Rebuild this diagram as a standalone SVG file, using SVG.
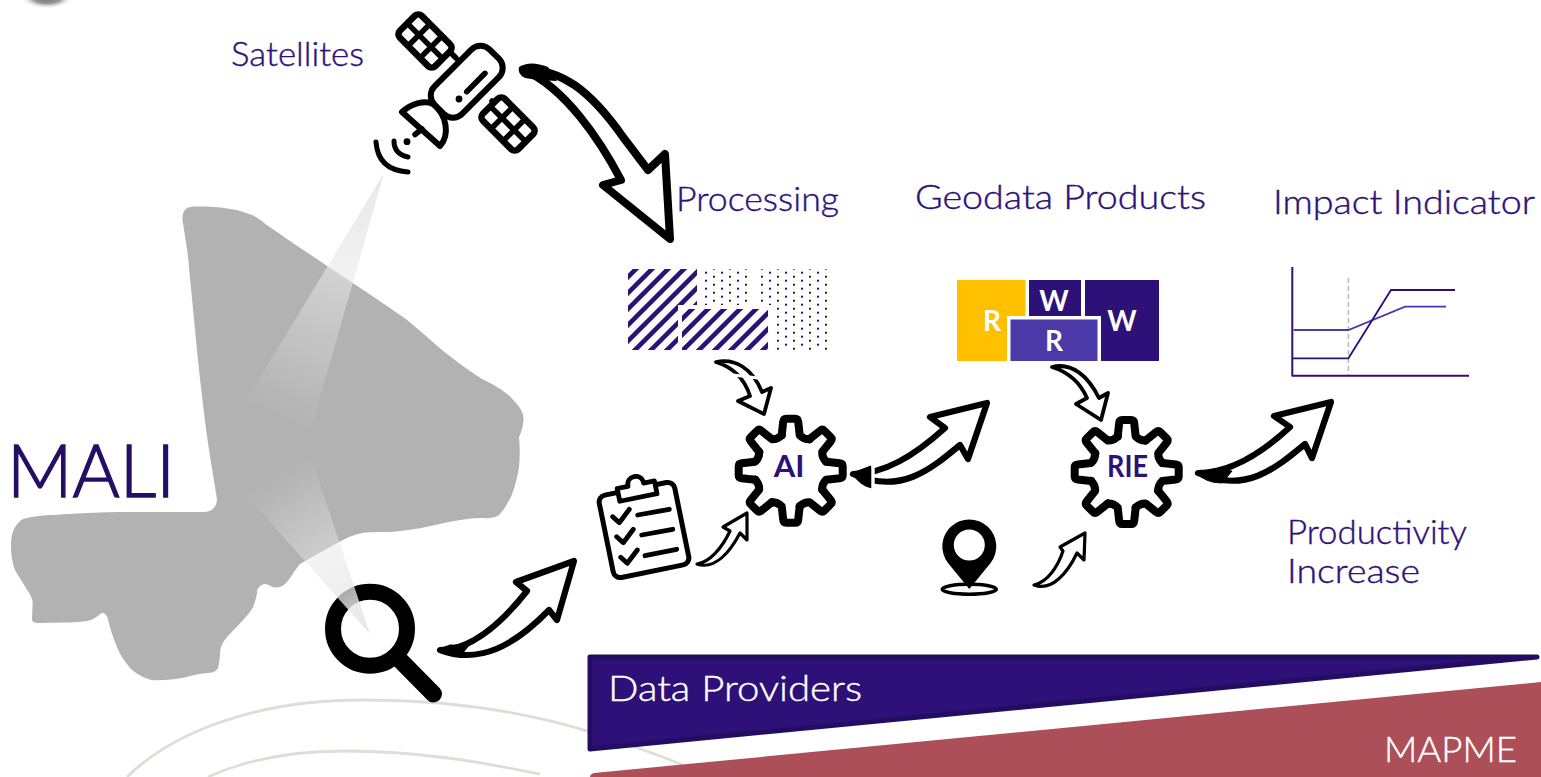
<svg xmlns="http://www.w3.org/2000/svg" xmlns:xlink="http://www.w3.org/1999/xlink" width="1541" height="777" viewBox="0 0 1541 777">
<style>
.t{font-family:"Lato","Open Sans","Liberation Sans",sans-serif;font-weight:300;fill:#2e1178;stroke:#2e1178;stroke-width:.4;font-size:33px}
.w{fill:#fff;stroke:#fff;font-size:35px}
.m{font-family:"Lato","Open Sans","Liberation Sans",sans-serif;font-weight:300;fill:#250f66;stroke:#250f66;stroke-width:1.4;font-size:72px}
.b{font-family:"Lato","Open Sans","Liberation Sans",sans-serif;font-weight:700;text-anchor:middle}
.ar{fill:#fff;stroke:#000;stroke-linejoin:round;stroke-linecap:round}
.k{fill:none;stroke:#000;stroke-linecap:round;stroke-linejoin:round}
.gear{fill:none;stroke:#000;stroke-width:8;stroke-linecap:round;stroke-linejoin:round}
.bg{fill:none;stroke:#e0ddd7;stroke-width:2.8}
</style>
<defs>
<linearGradient id="beam1" gradientUnits="userSpaceOnUse" x1="384" y1="173" x2="274" y2="416"><stop offset="0" stop-color="#e8e8e8" stop-opacity="1"/><stop offset="1" stop-color="#e8e8e8" stop-opacity="0"/></linearGradient>
<linearGradient id="beam2" gradientUnits="userSpaceOnUse" x1="370" y1="634" x2="271" y2="479"><stop offset="0" stop-color="#e8e8e8" stop-opacity="1"/><stop offset="1" stop-color="#e8e8e8" stop-opacity="0"/></linearGradient>
<radialGradient id="shade" cx=".5" cy=".5" r=".5"><stop offset="0" stop-color="#666"/><stop offset=".55" stop-color="#999"/><stop offset="1" stop-color="#fff" stop-opacity="0"/></radialGradient>
<pattern id="hatch" patternUnits="userSpaceOnUse" x="9" y="0" width="16" height="16"><path d="M-4,4 L4,-4 M0,16 L16,0 M12,20 L20,12" stroke="#2e1178" stroke-width="4.6" fill="none"/></pattern>
<pattern id="dots" patternUnits="userSpaceOnUse" x="705" y="271.7" width="16" height="8"><rect x="0" y="0" width="2" height="2" fill="#2e1178"/><rect x="8" y="4" width="2" height="2" fill="#2e1178"/></pattern>
<path id="seg" class="gear" d="M-9,-35.5 L-7.5,-49 Q-7.2,-52 -4.5,-52 L4.5,-52 Q7.2,-52 7.5,-49 L9,-35.5 Q13,-31.4 18.7,-31.5"/>
<g id="gearshape">
<use xlink:href="#seg" href="#seg"/>
<use xlink:href="#seg" href="#seg" transform="rotate(45)"/>
<use xlink:href="#seg" href="#seg" transform="rotate(90)"/>
<use xlink:href="#seg" href="#seg" transform="rotate(135)"/>
<use xlink:href="#seg" href="#seg" transform="rotate(180)"/>
<use xlink:href="#seg" href="#seg" transform="rotate(225)"/>
<use xlink:href="#seg" href="#seg" transform="rotate(270)"/>
<use xlink:href="#seg" href="#seg" transform="rotate(315)"/>
</g>
<g id="panel">
<rect x="-25" y="-15.5" width="50" height="31" rx="5" fill="#fff" stroke="#000" stroke-width="6.5"/>
<path d="M-8.5,-16 V16 M8.5,-16 V16 M-25,0 H25" stroke="#000" stroke-width="5.5" fill="none"/>
</g>
</defs>

<ellipse cx="47" cy="-3" rx="27" ry="12" fill="url(#shade)"/>

<g id="background-lines">
<path class="bg" d="M127,777 C170,735 250,700 362,700 C450,700 530,712 600,735 C630,745 660,755 690,768"/>
<path class="bg" d="M208,777 C250,758 300,751 344,751 C420,751 480,762 540,774"/>
</g>

<g id="band-data-providers">
<path d="M590,657 L1537,657 L590,749 Z" fill="#2e1178" stroke="#230d63" stroke-width="5" stroke-linejoin="round"/>
<text class="t w" x="608" y="701" textLength="254" lengthAdjust="spacingAndGlyphs">Data Providers</text>
</g>
<g id="band-mapme">
<path d="M594,773 L1541,682 V777 H590 Q590,774 594,773 Z" fill="#ad4f59"/>
<text class="t w" x="1384" y="761.5" textLength="133" lengthAdjust="spacingAndGlyphs">MAPME</text>
</g>

<g id="mali">
<path fill="#b2b2b2" d="M182.5,220 C182,210 186,207 194,206.5 C215,206 235,208 252,215 C258,218 262,221 265,223.7 C320,262 375,297 403,317 C418,328 433,343 448,354.7 C460,364 471,372 482,379 C495,385 505,391 513,399.7 C520,407 524,413 523.5,420 C523,427 521,433 519,437 C520,448 520,457 519,467 C517,480 514,489 511,497 C506,506 503,511 499,515 C495,518 488,518.5 482,518 C470,518 458,520 444,523 C428,527 412,530 396,531.4 C385,532.5 375,531.5 365,532.6 C355,534 347,538 339,542 L300,564 C293,572 291,578 286,583 C282,587 278,588 275.5,587.5 C271,587 268,584 265,584 C262,584 259,587 257.5,589 C257,596 255,602 253,607.4 C246,618 236,627 227,637 C222,643 220,648 220,654 C219.5,660 219,666 217.6,669 C215,672 211,673 206.6,673 C197,674 188,677 179,678.6 C169,680 160,680.5 151.5,680 C143,678 136,673 131,669 C125,662 120,655 117,647 C113,638 110,628 107.4,617 C106,614 103,612 101,613.5 C98,616 95,618 91,620 C84,622 76,622 69,622.5 L37,623 C33,622.5 32,621 32,619 L32.7,602 C31.5,597 30,594 27.5,590.6 L16,572 C12,564 11,552 11,545.7 C11,538 12,534 14,529 C17,524 20,520 24,518.7 C38,515 54,515 69,514 C86,513 104,512 120.5,512 L203,512 C212,512 217,507 217,499 C214,480 210,458 206.6,433 C203,405 199,372 196,340 L187.7,253.6 Z"/>
</g>

<g id="magnifier">
<circle class="k" cx="370" cy="628.7" r="37" stroke-width="16"/>
<line class="k" x1="398" y1="658" x2="433.5" y2="694" stroke-width="17"/>
</g>

<g id="beams">
<polygon points="384,173 244.5,403.4 310,433" fill="url(#beam1)"/>
<polygon points="370,634 246,495 310,454" fill="url(#beam2)"/>
</g>

<g id="mali-label"><text class="m" x="7" y="497" textLength="168" lengthAdjust="spacingAndGlyphs">MALI</text></g>

<g id="satellites">
<text class="t" x="231" y="66" textLength="133" lengthAdjust="spacingAndGlyphs">Satellites</text>
<path class="k" stroke-width="5.5" d="M448,50 L456,58 M492,101 L500,110"/>
<use xlink:href="#panel" href="#panel" transform="translate(425,41) rotate(45)"/>
<use xlink:href="#panel" href="#panel" transform="translate(508,124) rotate(45)"/>
<path d="M402,112 C412,103 425,100 433,104 C447,115 450,135 440,146 Z" fill="#fff" stroke="#000" stroke-width="6" stroke-linejoin="round"/>
<rect x="-39" y="-19.5" width="78" height="39" rx="13" transform="translate(466.7,81.7) rotate(-45)" fill="#fff" stroke="#000" stroke-width="6"/>
<path class="k" stroke-width="5.5" d="M466.7,91.7 L485,73.3 M422,129 L415,134.5"/>
<circle cx="459" cy="99" r="3.4" fill="#000"/>
<circle cx="407" cy="141.7" r="3.4" fill="#000"/>
<path class="k" stroke-width="5" d="M394,141 Q394,154 408,157 M376,142 Q378,170 408,172"/>
</g>

<g id="processing">
<text class="t" x="676" y="211" textLength="163" lengthAdjust="spacingAndGlyphs">Processing</text>
<path d="M628,269 H697 V305 H678 V350 H628 Z" fill="url(#hatch)"/>
<rect x="682" y="309" width="86" height="41" fill="url(#hatch)"/>
<rect x="703" y="269" width="47" height="36" fill="url(#dots)"/>
<rect x="761" y="269" width="66.5" height="36" fill="url(#dots)"/>
<rect x="776" y="305" width="51.5" height="45" fill="url(#dots)"/>
</g>

<g id="geodata-products">
<text class="t" x="915" y="209" textLength="291" lengthAdjust="spacingAndGlyphs">Geodata Products</text>
<rect x="957" y="280" width="68.5" height="81" fill="#ffc000"/>
<rect x="1029" y="280" width="52" height="37" fill="#2e1178"/>
<rect x="1085" y="280" width="74" height="81" fill="#2e1178"/>
<rect x="1007" y="316" width="94" height="46" fill="#fff"/>
<rect x="1010.5" y="319.5" width="87" height="41.5" fill="#4c39a8"/>
<text class="b" x="992" y="331" font-size="28" fill="#fff">R</text>
<text class="b" x="1054" y="311" font-size="28" fill="#fff">W</text>
<text class="b" x="1054" y="351" font-size="28" fill="#fff">R</text>
<text class="b" x="1122" y="331" font-size="28" fill="#fff">W</text>
</g>

<g id="impact-indicator">
<text class="t" x="1273" y="214" textLength="262" lengthAdjust="spacingAndGlyphs">Impact Indicator</text>
<path d="M1348.4,278 V376" stroke="#bdbdbd" stroke-width="1.6" stroke-dasharray="5 3" fill="none"/>
<path d="M1292.3,267 V376.5 M1292,375.7 H1469" stroke="#2e1178" stroke-width="2" fill="none"/>
<path d="M1293.6,330 H1348.4 L1405,306.7 H1446" stroke="#4c39a8" stroke-width="1.8" fill="none"/>
<path d="M1293,358.3 H1348.4 L1391,290 H1455" stroke="#2e1178" stroke-width="1.8" fill="none"/>
</g>

<g id="productivity-label">
<text class="t" x="1287" y="544" textLength="180" lengthAdjust="spacingAndGlyphs">Productivity</text>
<text class="t" x="1287" y="583" textLength="133" lengthAdjust="spacingAndGlyphs">Increase</text>
</g>

<g id="clipboard">
<rect x="-38.5" y="-42" width="77" height="84" rx="7" transform="translate(644,530) rotate(-11.5)" fill="#fff" stroke="#000" stroke-width="5"/>
<path transform="translate(644,530) rotate(-11.5)" d="M-18,-33 V-46 H-7 C-7,-57 9,-57 9,-46 H20 V-33 Z" fill="#fff" stroke="#000" stroke-width="4.8" stroke-linejoin="round"/>
<path class="k" stroke-width="4.8" d="M612.7,516.7 L619.3,522.7 L629.3,509.3 M637.7,515 L669.3,509.3 M616.7,536.7 L623.3,542.7 L633.3,529.3 M641.7,535 L672.7,529.3 M620.7,557.3 L627.3,563.3 L637.3,550 M645,555.7 L676.7,549.3"/>
</g>

<g id="gear-ai">
<use xlink:href="#gearshape" href="#gearshape" transform="translate(790.7,470.7)"/>
<text class="b" x="789" y="477" font-size="31" fill="#2e1178">AI</text>
</g>
<g id="gear-rie">
<use xlink:href="#gearshape" href="#gearshape" transform="translate(1126.7,472)"/>
<text class="b" x="1127.5" y="477" font-size="31" fill="#2e1178" textLength="41" lengthAdjust="spacingAndGlyphs">RIE</text>
</g>

<g id="location-pin">
<path fill-rule="evenodd" d="M969.3,589 L948,563 A27,27 0 1 1 990.6,563 Z M969.3,529.5 A15.5,15.5 0 1 0 969.31,560.5 A15.5,15.5 0 1 0 969.3,529.5 Z" fill="#000"/>
<ellipse cx="969.3" cy="589.3" rx="27" ry="5" fill="none" stroke="#000" stroke-width="3.6"/>
</g>

<g id="connectors">
<path class="ar" stroke-width="8" d="M524,70 C560,68 590,90 623,137 L648,170 L665,154 L670,239 L603,185 L621,180 C600,140 565,88 524,70 Z"/>
<path d="M519,67 Q530,60 548,67 L557,81 Q537,80 525,78 Q517,74 519,67 Z" fill="#000"/>
<path class="ar" stroke-width="6.2" d="M440,650 C470,650 500,625 527,591 L516,582 L574,561 L557,620 L549,610 C515,645 480,665 440,650 Z"/>
<path d="M437,650 L450,645 Q460,646 470,644 L462,654 Q448,657 437,650 Z" fill="#000" stroke="#000" stroke-linejoin="round"/>
<path class="ar" stroke-width="6.2" d="M853,474 C885,474 915,455 945,428 L930,417 L987,403 L968,459 L960,445 C930,470 900,495 853,474 Z"/>
<path d="M852,473 L871,466 L872,488 Q860,486 852,473 Z" fill="#000" stroke="#000" stroke-width="1" stroke-linejoin="round"/>
<line x1="873" y1="460" x2="873" y2="494" stroke="#fff" stroke-width="3.4"/>
<path class="ar" stroke-width="6.2" d="M1198,473 C1230,473 1260,455 1290,427 L1274,416 L1331,402 L1312,458 L1305,444 C1275,469 1245,494 1198,473 Z"/>
<path d="M1196,472 L1214,469 L1232,471 L1222,483 Q1205,483 1196,472 Z" fill="#000" stroke="#000" stroke-linejoin="round"/>
<path class="ar" stroke-width="3.8" d="M716,362 C735,358 752,368 762,392 L771,388 L764,414 L738,401 L750,396 C745,380 735,368 716,362 Z"/>
<line x1="733" y1="375" x2="758" y2="378" stroke="#fff" stroke-width="3"/>
<path class="ar" stroke-width="3.8" d="M1052,367 C1072,362 1088,376 1099,398 L1108,393 L1101,420 L1076,404 L1087,398 C1080,382 1068,372 1052,367 Z"/>
<path class="ar" stroke-width="3.2" d="M697,564 C710,562 722,548 730,531 L723,527 L747,513 L747,540 L740,533 C730,552 715,570 697,564 Z"/>
<path class="ar" stroke-width="3.2" d="M1034,585 C1048,582 1058,566 1063,551 L1060,547 L1085,533 L1084,560 L1077,553 C1068,572 1052,592 1034,585 Z"/>
</g>
</svg>
